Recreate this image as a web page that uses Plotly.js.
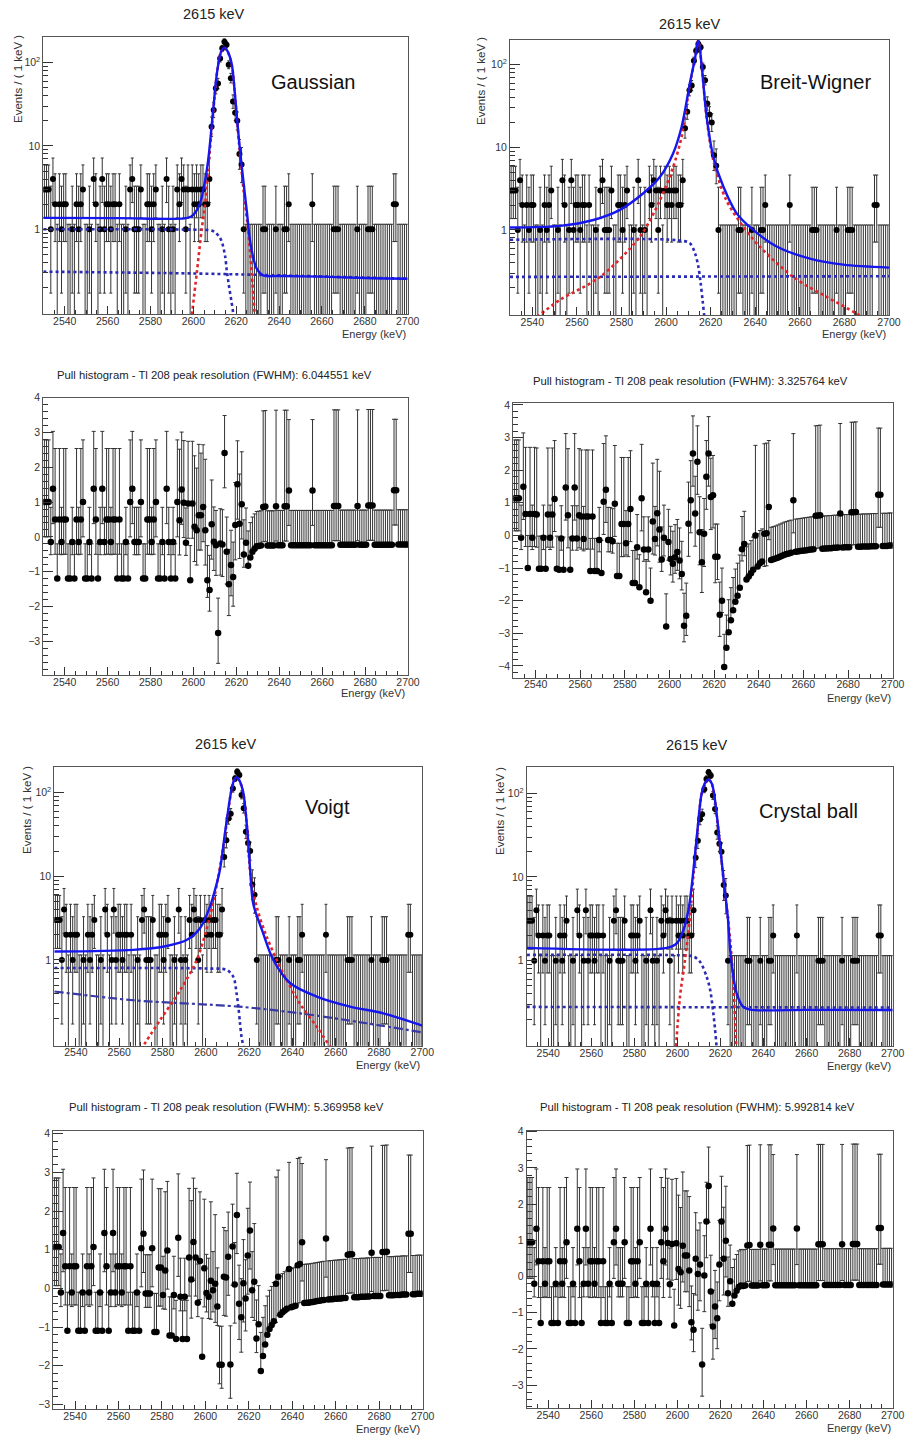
<!DOCTYPE html>
<html><head><meta charset="utf-8">
<script src="https://cdn.plot.ly/plotly-3.0.1.min.js"></script>
<style>html,body{margin:0;padding:0;background:#fff}#chart{width:906px;height:1436px}</style>
</head><body><div id="chart"></div>
<script>
// ---------------- DATA ----------------
const E0 = 2530; // first bin low edge (keV), 1 keV bins
const counts = [
 3,3,3,1,4,2,0,2,1,2,
 2,0,0,1,0,2,1,2,3,0,
 0,1,0,4,2,0,1,4,1,2,
 2,1,2,2,0,2,0,0,1,0,
 3,4,1,1,1,3,0,0,2,2,
 1,2,3,0,0,1,0,4,1,0,
 1,0,3,2,4,3,1,3,0,3,
 2,3,2,3,3,2,2,4,17,27,
 49,56,112,148,178,163,94,65,34,25,
 20,8,6,1,0,0,0,0,0,0,
 0,0,1,1,0,0,0,0,1,0,
 0,0,1,1,2,0,0,0,0,0,
 0,0,0,0,0,2,0,0,0,0,
 0,0,0,0,0,1,1,1,0,0,
 0,0,0,0,0,0,1,0,0,0,
 0,1,1,1,0,0,0,0,0,0,
 0,0,0,2,2,0,0,0,0,0];

const pullGauss = [
 1.0,1.0,1.0,-0.15,1.38,0.5,-1.2,0.5,-0.15,0.5,
 0.5,-1.2,-1.2,-0.15,-1.2,0.5,-0.15,0.5,1.0,-1.2,
 -1.2,-0.15,-1.2,1.38,0.5,-1.2,-0.15,1.38,-0.15,0.5,
 0.5,-0.15,0.5,0.5,-1.2,0.5,-1.2,-1.2,-0.15,-1.2,
 1.0,1.38,-0.15,-0.15,-0.15,1.0,-1.2,-1.2,0.5,0.5,
 -0.15,0.5,1.0,-1.2,-1.2,-0.15,-1.2,1.38,-0.15,-1.2,
 -0.15,-1.2,1.0,0.48,1.36,0.98,-0.17,0.96,-1.25,0.96,
 0.29,0.19,0.62,0.62,0.86,0.19,-1.25,-1.53,0.36,-0.14,
 -0.24,-2.76,-0.19,-0.22,2.41,-0.43,-1.36,-0.81,-1.15,0.34,
 1.51,0.38,0.94,-0.51,-0.17,-0.83,-0.59,-0.43,-0.34,-0.27,
 -0.26,-0.25,0.86,0.87,-0.25,-0.25,-0.25,-0.25,0.88,-0.24,
 -0.24,-0.24,0.88,0.88,1.33,-0.24,-0.24,-0.24,-0.24,-0.24,
 -0.24,-0.24,-0.24,-0.24,-0.24,1.33,-0.24,-0.24,-0.24,-0.24,
 -0.24,-0.24,-0.24,-0.24,-0.24,0.89,0.89,0.89,-0.23,-0.23,
 -0.23,-0.23,-0.23,-0.23,-0.23,-0.23,0.89,-0.23,-0.23,-0.23,
 -0.23,0.9,0.9,0.9,-0.23,-0.23,-0.23,-0.23,-0.23,-0.23,
 -0.23,-0.23,-0.23,1.34,1.34,-0.22,-0.22,-0.22,-0.22,-0.22];

const pullBW = [
 1.14,1.14,1.14,-0.07,1.49,0.66,-1.0,0.66,-0.07,0.66,
 0.64,-1.02,-1.02,-0.07,-1.02,0.64,-0.07,0.64,1.12,-1.02,
 -1.05,-0.09,-1.05,1.47,0.62,-1.05,-0.09,1.47,-0.09,0.62,
 0.58,-0.11,0.58,0.58,-1.09,0.58,-1.09,-1.09,-0.14,-1.15,
 1.03,1.40,-0.14,-0.14,-0.18,0.97,-1.24,-1.24,0.35,0.35,
 -0.24,0.35,0.81,-1.46,-1.46,-0.36,-1.59,1.14,-0.43,-1.74,
 -0.43,-2.0,0.43,-0.11,0.68,0.18,-0.74,-0.07,-2.79,-0.2,
 -0.72,-0.87,-0.67,-0.51,-0.77,-1.18,-2.77,-2.46,0.36,1.08,
 2.51,0.67,2.26,0.1,-0.82,0.05,1.8,2.51,1.18,1.23,
 -0.65,-0.65,-2.43,-2.0,-4.03,-3.44,-2.97,-2.6,-2.29,-2.03,
 -1.85,-1.6,-0.42,-0.26,-1.35,-1.26,-1.16,-1.05,0.0,-0.95,
 -0.85,-0.8,0.05,0.07,0.87,-0.75,-0.73,-0.71,-0.68,-0.65,
 -0.62,-0.59,-0.57,-0.55,-0.53,1.08,-0.5,-0.49,-0.48,-0.47,
 -0.46,-0.45,-0.44,-0.43,-0.42,0.6,0.61,0.62,-0.41,-0.4,
 -0.4,-0.39,-0.39,-0.38,-0.38,-0.37,0.67,-0.37,-0.36,-0.36,
 -0.36,0.71,0.71,0.72,-0.35,-0.35,-0.34,-0.34,-0.34,-0.34,
 -0.33,-0.33,-0.33,1.25,1.25,-0.32,-0.32,-0.32,-0.31,-0.31];

const pullVoigt = [
 1.07,1.07,1.07,-0.11,1.43,0.57,-1.1,0.57,-0.11,0.57,
 0.57,-1.1,-1.1,-0.11,-1.1,0.57,-0.11,0.57,1.07,-1.1,
 -1.1,-0.11,-1.1,1.43,0.57,-1.1,-0.11,1.43,-0.11,0.57,
 0.57,-0.11,0.57,0.57,-1.1,0.57,-1.1,-1.1,-0.11,-1.1,
 1.04,1.41,-0.13,-0.13,-0.13,1.04,-1.13,-1.13,0.54,0.54,
 -0.17,0.46,0.98,-1.22,-1.22,-0.17,-1.31,1.31,-0.22,-1.31,
 -0.22,-1.31,0.8,0.23,1.2,0.8,-0.37,0.71,-1.77,0.52,
 -0.12,-0.22,0.2,-0.05,0.12,-0.47,-1.98,-1.98,0.3,0.28,
 0.82,-1.97,1.08,0.1,1.9,-0.4,-0.75,0.13,-0.26,0.85,
 1.5,-0.05,0.17,-1.3,-0.93,-2.14,-1.75,-1.45,-1.2,-1.05,
 -0.95,-0.85,0.12,0.3,-0.68,-0.62,-0.57,-0.53,0.5,-0.49,
 -0.47,-0.45,0.6,0.63,1.19,-0.38,-0.37,-0.37,-0.36,-0.35,
 -0.34,-0.33,-0.32,-0.31,-0.3,1.29,-0.29,-0.28,-0.28,-0.27,
 -0.27,-0.26,-0.26,-0.25,-0.25,0.87,0.88,0.88,-0.23,-0.23,
 -0.23,-0.22,-0.22,-0.22,-0.21,-0.21,0.92,-0.2,-0.2,-0.2,
 -0.2,0.94,0.94,0.95,-0.18,-0.18,-0.18,-0.17,-0.17,-0.17,
 -0.16,-0.16,-0.16,1.41,1.41,-0.15,-0.15,-0.14,-0.14,-0.14];

const pullCB = [
 0.95,0.95,0.95,-0.2,1.32,0.42,-1.28,0.42,-0.2,0.42,
 0.42,-1.28,-1.28,-0.2,-1.28,0.42,-0.2,0.42,0.95,-1.28,
 -1.28,-0.2,-1.28,1.32,0.42,-1.28,-0.2,1.32,-0.2,0.42,
 0.42,-0.2,0.42,0.42,-1.28,0.42,-1.28,-1.28,-0.2,-1.28,
 0.95,1.32,-0.2,-0.2,-0.2,0.95,-1.28,-1.28,0.42,0.42,
 -0.2,0.42,0.95,-1.28,-1.28,-0.2,-1.28,1.32,-0.2,-1.28,
 -0.2,-1.28,0.95,0.42,1.32,0.93,-0.21,0.9,-1.35,0.92,
 0.21,0.12,0.85,0.58,0.58,0.17,-1.26,-1.47,0.49,0.07,
 0.33,-2.43,0.03,1.52,2.5,-0.41,-1.38,-0.83,-1.15,0.33,
 1.52,0.49,0.99,-0.46,-0.13,-0.75,-0.52,-0.39,-0.29,-0.25,
 -0.26,-0.25,0.86,0.87,-0.25,-0.25,-0.25,-0.25,0.88,-0.24,
 -0.24,-0.24,0.88,0.88,1.33,-0.24,-0.24,-0.24,-0.24,-0.24,
 -0.24,-0.24,-0.24,-0.24,-0.24,1.33,-0.24,-0.24,-0.24,-0.24,
 -0.24,-0.24,-0.24,-0.24,-0.24,0.89,0.89,0.89,-0.23,-0.23,
 -0.23,-0.23,-0.23,-0.23,-0.23,-0.23,0.89,-0.23,-0.23,-0.23,
 -0.23,0.9,0.9,0.9,-0.23,-0.23,-0.23,-0.23,-0.23,-0.23,
 -0.23,-0.23,-0.23,1.34,1.34,-0.22,-0.22,-0.22,-0.22,-0.22];

// Fit curves (keV, events / keV)
const gausTotX = [2530,2565,2596,2599,2601,2603,2605,2607,2609,2611.2,2613,2614.5,2616,2617.9,2619.5,2621.4,2623.5,2625,2626.4,2628,2629.5,2632.6,2640,2660,2680,2700];
const gausTotY = [1.37,1.36,1.35,1.42,1.6,2.0,3.3,7,23,81,136,151,136,96,39,11,3.5,1.6,0.75,0.45,0.34,0.28,0.275,0.27,0.26,0.255];
const gausSigX = [2599,2601.6,2603.9,2605.5,2607,2609,2611.2,2613,2614.5,2616,2617.9,2619.5,2621.4,2623.5,2625.7,2627.2,2629];
const gausSigY = [0.08,0.3,1.0,2.0,5.5,21,80,135,150,135,95,38,10,2.8,0.9,0.3,0.07];
const gausStepX = [2530,2600,2608,2610,2612,2613.2,2614.8,2615.6,2616.5,2617.9,2618.7,2619.3];
const gausStepY = [1.0,0.99,0.97,0.93,0.82,0.72,0.48,0.32,0.22,0.13,0.095,0.07];
const gausFlatX = [2530,2600,2640,2700];
const gausFlatY = [0.31,0.295,0.28,0.255];

const bwTotX = [2530,2552.4,2567.4,2579.3,2589.8,2597.3,2603.2,2607,2610.7,2613,2614.5,2616,2618.2,2621.2,2625.7,2631.6,2639.1,2649.6,2664.5,2679.5,2700];
const bwTotY = [1.07,1.12,1.32,1.75,2.78,4.4,8.5,17.8,60,120,200,96,23.6,7.7,3.35,1.6,1.0,0.63,0.45,0.38,0.35];
const bwSigX = [2540,2552.4,2570.4,2588.3,2597.3,2603.2,2607,2610.7,2613,2614.5,2616,2618.2,2621.2,2627,2634.6,2642,2657,2672,2685.5,2692];
const bwSigY = [0.08,0.142,0.27,0.83,2.3,5.8,13.5,58,118,198,95,23,7.0,2.3,1.1,0.63,0.27,0.155,0.097,0.075];
const bwStepX = [2530,2605,2610.7,2613,2614.5,2615.5,2616.4,2617.1,2617.6];
const bwStepY = [0.76,0.75,0.69,0.52,0.36,0.23,0.14,0.093,0.075];
const bwFlatX = [2530,2700];
const bwFlatY = [0.27,0.275];

const voigtTotX = [2530,2566.5,2581.9,2591.1,2597.3,2601.9,2604.2,2606.5,2609,2611.6,2613,2614.2,2615.5,2617.3,2619,2620.7,2621.9,2626.5,2631.2,2638.9,2651.2,2666.6,2682,2700];
const voigtTotY = [1.26,1.32,1.47,1.73,2.39,4.34,6.8,11.9,35,100,140,153,140,100,40,10,4.7,2.08,1.0,0.53,0.365,0.277,0.23,0.164];
const voigtSigX = [2570,2578.8,2588,2595.8,2601.9,2605.8,2609,2611.6,2613,2614.2,2615.5,2617.3,2619,2620.7,2623.5,2628.1,2635.8,2643.5,2651.2,2657.3,2660];
const voigtSigY = [0.085,0.19,0.43,1.0,3.3,10,33,99,139,150,139,99,39,10,4.3,1.9,0.69,0.30,0.16,0.094,0.08];
const voigtStepX = [2530,2600,2609.6,2612.7,2614.2,2615,2615.8,2616.5,2617.3,2617.8];
const voigtStepY = [0.8,0.79,0.76,0.63,0.4,0.28,0.175,0.12,0.094,0.08];
const voigtLinX = [2530,2566.5,2615,2643.5,2674.3,2700];
const voigtLinY = [0.42,0.33,0.277,0.23,0.175,0.136];

const cbTotX = [2530,2595,2599.7,2602.8,2605.1,2606.6,2609,2611.3,2613,2614.5,2616,2617,2619,2621.3,2623.4,2624.8,2627.5,2630.6,2633.7,2660,2700];
const cbTotY = [1.42,1.42,1.61,2.32,4.0,7.6,30,100,135,146,130,100,38,10,3.35,1.12,0.41,0.28,0.26,0.258,0.257];
const cbSigX = [2599.2,2601.2,2603.5,2605.9,2607.4,2609,2611.3,2613,2614.5,2616,2617,2619,2621.3,2624.4,2626,2627.3,2628];
const cbSigY = [0.08,0.37,1.0,3.4,10,28,100,134,145,129,99,37,10,1.9,0.54,0.095,0.05];
const cbStepX = [2530,2600,2607.4,2610.5,2613.6,2615.2,2616.7,2617.5,2618.2,2618.7];
const cbStepY = [1.17,1.16,1.12,0.97,0.64,0.45,0.235,0.15,0.095,0.07];
const cbFlatX = [2530,2700];
const cbFlatY = [0.28,0.275];

const fitNames = ['Gaussian','Breit-Wigner','Voigt','Crystal ball'];
const fwhm = ['6.044551','3.325764','5.369958','5.992814'];

// ---------------- HELPERS ----------------
const W = 906, H = 1436;
const FONT = 'Liberation Sans, Arial, Helvetica, sans-serif';
function pLo(n){ if(n<=0) return 0; return n - n*Math.pow(1 - 1/(9*n) - 1/(3*Math.sqrt(n)), 3); }
function pHi(n){ if(n<=0) return 1.148; const m=n+1; return m*Math.pow(1 - 1/(9*m) + 1/(3*Math.sqrt(m)), 3) - n; }

// panel frames in pixels [x0,x1,y0,y1], order: 1 Gauss fit,2 Gauss pull,3 BW fit,4 BW pull,5 Voigt fit,6 Voigt pull,7 CB fit,8 CB pull
const frames = [
 [43.3,407.7,36.7,314.3],[43.3,408,397.7,675],
 [510,889,40,315],[513.3,892.7,403.3,677.7],
 [54.3,422.3,766.7,1045.7],[53.3,422.7,1130.7,1409.3],
 [526.7,892.7,767.3,1046],[526.7,892.7,1130.7,1408.3]];
const yRanges = [[-1.02,2.31],[-3.97,4.0],[-1.03,2.30],[-4.36,4.05],[-1.025,2.31],[-3.13,4.08],[-1.02,2.31],[-3.64,4.03]];

const traces = [];
const layout = {width:W,height:H,margin:{l:0,r:0,t:0,b:0},showlegend:false,hovermode:false,
  paper_bgcolor:'#fff',plot_bgcolor:'#fff',font:{family:FONT,color:'#222'},annotations:[]};

const logMinor = [];
[0.1,1,10,100].forEach(d=>{for(let j=2;j<=9;j++) logMinor.push(d*j);});

for(let k=1;k<=8;k++){
  const f = frames[k-1];
  const isFit = (k%2===1);
  const xs = k===1?'':String(k);
  layout['xaxis'+xs] = {domain:[f[0]/W,f[1]/W], range:[2530,2700.01], anchor:'y'+xs,
    showline:true, mirror:true, linecolor:'#555', linewidth:1, showgrid:false, zeroline:false,
    ticks:'inside', ticklen:8, tickcolor:'#333', tick0:2540, dtick:20, ticklabelstandoff:-3,
    tickfont:{size:10.5,color:'#333',family:FONT},
    minor:{ticks:'inside', ticklen:4, tick0:2530, dtick:5, tickcolor:'#333', showgrid:false}};
  const ya = {domain:[1-f[3]/H,1-f[2]/H], range:yRanges[k-1], anchor:'x'+xs,
    showline:true, mirror:true, linecolor:'#555', linewidth:1, showgrid:false, zeroline:false,
    ticks:'inside', ticklen:10, tickcolor:'#333', tickfont:{size:10.5,color:'#333',family:FONT}};
  if(isFit){
    ya.type='log'; ya.tickvals=[1,10,100]; ya.ticktext=['1','10','10<sup>2</sup>'];
    ya.minor={ticks:'inside',ticklen:5,tickvals:logMinor,tickcolor:'#333',showgrid:false};
  } else {
    ya.tick0=0; ya.dtick=1;
    ya.minor={ticks:'inside',ticklen:5,tick0:0,dtick:0.2,tickcolor:'#333',showgrid:false};
  }
  layout['yaxis'+xs] = ya;
}

// data for fit panels
const zX=[],zY=[],zM=[],dX=[],dY=[],dUp=[],dDn=[];
counts.forEach((n,i)=>{const x=E0+i+0.5;
  if(n===0){zX.push(x);zY.push(pHi(0));zM.push(pHi(0)-0.001);}
  else{dX.push(x);dY.push(n);dUp.push(pHi(n));dDn.push(pLo(n));}});

const curveSets = [
 [[gausFlatX,gausFlatY,'bg'],[gausStepX,gausStepY,'bg'],[gausSigX,gausSigY,'sig'],[gausTotX,gausTotY,'tot']],
 [[bwFlatX,bwFlatY,'bg'],[bwStepX,bwStepY,'bg'],[bwSigX,bwSigY,'sig'],[bwTotX,bwTotY,'tot']],
 [[voigtLinX,voigtLinY,'lin'],[voigtStepX,voigtStepY,'bg'],[voigtSigX,voigtSigY,'sig'],[voigtTotX,voigtTotY,'tot']],
 [[cbFlatX,cbFlatY,'bg'],[cbStepX,cbStepY,'bg'],[cbSigX,cbSigY,'sig'],[cbTotX,cbTotY,'tot']]];
const styles = {
  bg:{color:'#2a2ab4',width:2.6,dash:'dot'},
  lin:{color:'#3a3aa6',width:2.2,dash:'dashdot'},
  sig:{color:'#e0262b',width:2.6,dash:'dot'},
  tot:{color:'#1616ee',width:2.4}};
const pulls = [pullGauss,pullBW,pullVoigt,pullCB];

for(let p=0;p<4;p++){
  const kf = 2*p+1, kp = 2*p+2;
  const xf = kf===1?'x':'x'+kf, yf = kf===1?'y':'y'+kf;
  traces.push({type:'scatter',mode:'markers',x:zX,y:zY,xaxis:xf,yaxis:yf,
    marker:{size:1,color:'rgba(0,0,0,0)'},
    error_y:{type:'data',symmetric:false,array:zY.map(()=>0),arrayminus:zM,color:'#333',thickness:1,width:1.5}});
  traces.push({type:'scatter',mode:'markers',x:dX,y:dY,xaxis:xf,yaxis:yf,
    marker:{size:6,color:'#000'},
    error_y:{type:'data',symmetric:false,array:dUp,arrayminus:dDn,color:'#333',thickness:1,width:1.5}});
  curveSets[p].forEach(c=>{
    traces.push({type:'scatter',mode:'lines',x:c[0],y:c[1],xaxis:xf,yaxis:yf,
      line:Object.assign({shape:'spline',smoothing:0.9},styles[c[2]])});
  });
  // pull panel
  const xp='x'+kp, yp='y'+kp;
  const pv = pulls[p];
  const up=[],dn=[];
  pv.forEach((v,i)=>{const n=counts[i];const lo=pLo(n),hi=pHi(n);
    if(v>=0){up.push(n>0?hi/lo:1);dn.push(1);} else {up.push(1);dn.push(n>0?lo/hi:0);} });
  traces.push({type:'scatter',mode:'markers',x:counts.map((_,i)=>E0+i+0.5),y:pv,xaxis:xp,yaxis:yp,
    marker:{size:6.5,color:'#000'},
    error_y:{type:'data',symmetric:false,array:up,arrayminus:dn,color:'#333',thickness:1,width:2}});
}

// ---------------- TEXT ----------------
function ann(text,px,py,size,opts){
  layout.annotations.push(Object.assign({text:text,x:px/W,y:1-py/H,xref:'paper',yref:'paper',
    showarrow:false,xanchor:'center',yanchor:'middle',font:{size:size,color:'#222',family:FONT}},opts||{}));
}
const fitTitlePos = [[213.5,14],[690,24],[225.8,744],[697,745]];
const pullTitlePos = [[214,375],[690,380.7],[226,1106.7],[697.5,1107]];
const namePos = [[313,82],[815.5,82],[327.5,807],[808,811]];
const yTitlePos = [[18,79],[481,81],[27,810],[500,811]];
const energyPos = [[408,334],[407,693.5],[888,334],[892.7,698],[421.7,1064.5],[421.7,1429],[892.7,1065.5],[892.7,1428]];
for(let p=0;p<4;p++){
  ann('2615 keV',fitTitlePos[p][0],fitTitlePos[p][1],14.5);
  ann('Pull histogram - Tl 208 peak resolution (FWHM): '+fwhm[p]+' keV',pullTitlePos[p][0],pullTitlePos[p][1],11.3);
  ann(fitNames[p],namePos[p][0],namePos[p][1],20,{font:{size:20,color:'#111',family:FONT}});
  ann('Events / ( 1 keV )',yTitlePos[p][0],yTitlePos[p][1],11.5,{textangle:-90,font:{size:11.5,color:'#333',family:FONT}});
}
energyPos.forEach(e=>ann('Energy (keV)',e[0],e[1],11,{xanchor:'right',font:{size:11,color:'#333',family:FONT}}));

Plotly.newPlot('chart',traces,layout,{staticPlot:true,displayModeBar:false});
</script></body></html>
